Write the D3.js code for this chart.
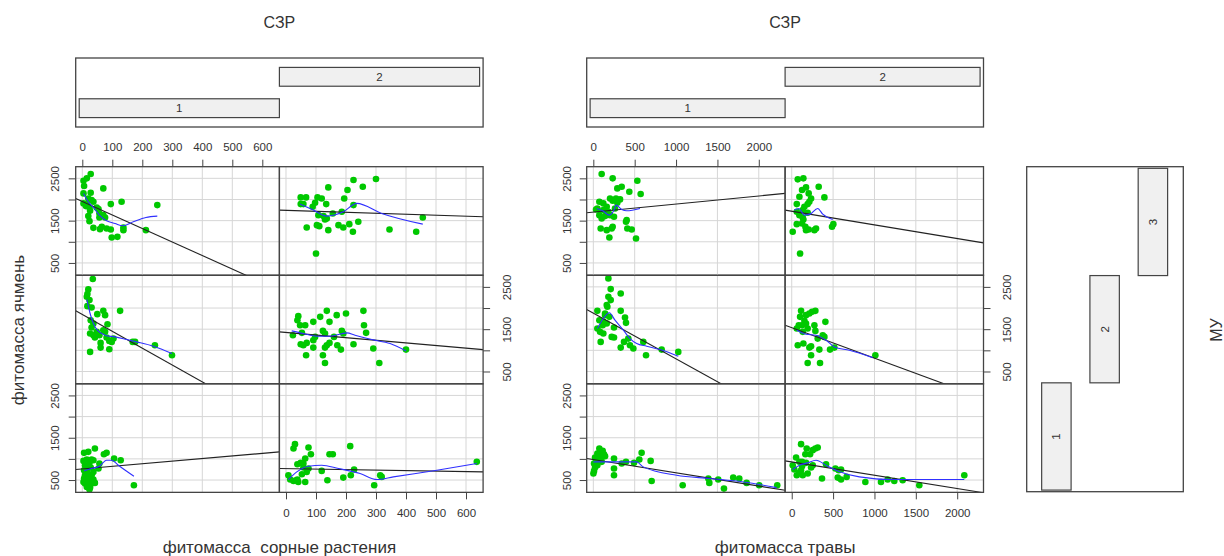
<!DOCTYPE html>
<html><head><meta charset="utf-8">
<script src="https://cdn.jsdelivr.net/npm/d3@7"></script>
<style>
body{margin:0;background:#fff}
text{font-family:"Liberation Sans",Arial,sans-serif;fill:#333}
</style>
</head><body><svg id="c" width="1224" height="556"></svg>
<script>
// ---------------- DATA ----------------
const szrLevels = [1, 2];
const muLevels = [1, 2, 3];
const weedTicks = [0, 100, 200, 300, 400, 500, 600];
const grassTicks = [0, 500, 1000, 1500, 2000];
const barleyTicks = [500, 1000, 1500, 2000, 2500];
const barleyTickLabels = [500, 1500, 2500];
const weedDomain = [-22, 657];
const grassDomain = [-80, 2318];
const barleyDomain = [209, 2775];

// фитомасса сорные растения vs ячмень
const weed_s1_m3 = [[28,2602],[15,2500],[4,2444],[6,2318],[4,2144],[28,2160],[31,1986],[20,2025],[4,1907],[15,1891],[24,1812],[26,1733],[20,1607],[24,1488],[37,1330],[54,1773],[57,1670],[70,2262],[70,1630],[65,1354],[59,1299],[81,1314],[95,1291],[98,1101],[117,1117],[95,1891],[131,1947],[137,1338],[137,1275],[212,1275],[250,1867],[76,1575],[57,1575],[37,1946],[12,1844],[48,1812]];
const weed_s2_m3 = [[49,2049],[67,2049],[49,1891],[58,1891],[105,2049],[119,2025],[97,1923],[134,1891],[141,2286],[205,2223],[225,2460],[256,2302],[300,2484],[194,2025],[225,1867],[186,1709],[108,1630],[125,1607],[130,1528],[136,1552],[69,1338],[103,1393],[111,1370],[141,1275],[175,1393],[191,1338],[211,1417],[223,1236],[241,1472],[345,1291],[434,1236],[456,1575],[100,722],[89,1828],[156,1670]];
const weed_s1_m2 = [[35,2685],[20,2440],[17,2329],[15,2266],[24,2187],[17,2045],[31,2013],[50,1855],[70,1934],[76,1832],[126,1934],[28,1713],[37,1634],[31,1539],[84,1618],[70,1476],[26,1397],[37,1358],[42,1302],[48,1437],[76,1437],[104,1278],[90,1223],[98,1200],[61,1176],[61,1065],[90,1026],[26,963],[168,1200],[176,1200],[242,1120],[299,883],[81,1302],[57,1358]];
const weed_s2_m2 = [[41,1808],[38,1713],[47,1594],[64,1594],[91,1674],[114,1792],[136,1934],[145,1674],[169,1832],[200,1871],[258,1934],[260,1594],[267,1413],[23,1358],[53,1413],[123,1460],[130,1397],[186,1460],[97,1318],[91,1239],[49,1144],[58,1120],[69,1176],[91,1065],[130,1065],[136,1120],[145,1176],[171,1120],[183,1018],[225,1144],[291,1042],[67,883],[123,883],[130,702],[311,702],[400,1018],[191,1397],[160,1318]];
const weed_s1_m1 = [[6,1143],[20,1166],[42,1245],[15,985],[31,985],[4,953],[9,850],[24,906],[37,969],[28,795],[6,732],[15,716],[9,613],[20,637],[31,613],[6,535],[15,511],[26,495],[37,511],[9,416],[20,400],[31,416],[42,432],[15,337],[26,321],[24,274],[4,455],[54,772],[57,890],[72,1111],[81,1143],[106,1008],[128,969],[172,377],[37,692],[12,795]];
const weed_s2_m1 = [[30,1348],[25,1245],[75,1269],[83,1111],[38,874],[49,906],[64,1008],[58,795],[75,772],[8,613],[14,511],[25,479],[38,511],[41,455],[64,455],[53,637],[69,692],[119,716],[138,495],[145,1111],[156,1111],[214,1301],[191,558],[216,613],[227,748],[294,377],[314,613],[319,574],[636,930],[58,890],[34,495]];

const weedLoess_s1_m3 = [[4,2144],[20,1947],[37,1812],[57,1630],[81,1496],[109,1433],[135,1378],[170,1472],[212,1575],[250,1607]];
const weedLoess_s2_m3 = [[47,1891],[91,1749],[136,1607],[191,1709],[236,1907],[319,1670],[456,1417]];
const weedLoess_s1_m2 = [[15,2203],[26,1871],[37,1634],[50,1476],[76,1358],[109,1318],[148,1255],[181,1200],[237,1097],[299,923]];
const weedLoess_s2_m2 = [[19,1460],[58,1397],[103,1334],[147,1334],[203,1413],[230,1358],[286,1255],[347,1160],[400,986]];
const weedLoess_s1_m1 = [[6,716],[31,772],[57,827],[81,969],[98,969],[120,850],[172,590]];
const weedLoess_s2_m1 = [[8,511],[36,692],[75,827],[119,850],[175,772],[247,653],[303,511],[358,574],[503,732],[636,890]];

// rows: [МУ1, МУ2, МУ3]
const weedFitIntercept_s1 = [761, 1846, 1955];
const weedFitSlope_s1 = [0.616, -3.98, -3.2];
const weedFitIntercept_s2 = [769, 1422, 1744];
const weedFitSlope_s2 = [-0.116, -0.616, -0.233];

// фитомасса травы vs ячмень
const grass_s1_m3 = [[101,2602],[234,2500],[532,2444],[572,2128],[73,1946],[121,1907],[49,1788],[162,1828],[73,1630],[142,1607],[202,1630],[101,1551],[250,1591],[202,2025],[234,1970],[274,2025],[290,1923],[323,2002],[290,2262],[343,2302],[435,2183],[89,1314],[162,1275],[234,1354],[222,1314],[194,1101],[403,1512],[395,1472],[411,1314],[464,1291],[516,1078],[121,1749],[33,1765],[182,1709],[262,1788]];
const grass_s2_m3 = [[73,2476],[141,2500],[125,2223],[173,2286],[205,2144],[234,2025],[193,1891],[61,1891],[61,1709],[93,1630],[133,1575],[141,1528],[125,1433],[165,1354],[205,1291],[173,1275],[274,1275],[294,1314],[12,1236],[61,1417],[213,1946],[326,2302],[395,2049],[503,1417],[487,1354],[101,722],[93,2065],[133,1749],[193,1686],[153,1828]];
const grass_s1_m2 = [[182,2700],[210,2448],[331,2345],[182,2266],[210,2187],[162,2069],[170,2029],[49,1934],[142,1832],[331,1934],[383,1776],[395,1650],[73,1713],[121,1674],[162,1634],[49,1515],[81,1437],[121,1397],[113,1594],[250,1539],[222,1318],[250,1302],[371,1200],[423,1278],[443,1120],[484,1042],[331,1065],[604,1200],[637,883],[826,1018],[1027,963],[89,1200],[142,1871],[194,1792]];
const grass_s2_m2 = [[113,1934],[101,1792],[173,1832],[213,1871],[246,1911],[286,1934],[153,1697],[125,1594],[173,1634],[85,1594],[274,1594],[133,1437],[286,1460],[407,1674],[375,1358],[395,1318],[73,1120],[141,1160],[213,1065],[234,1097],[334,1018],[463,1018],[515,1065],[193,702],[234,883],[342,702],[1011,883],[61,1515],[193,1515],[314,1278]];
const grass_s1_m1 = [[73,1245],[81,1166],[113,1190],[49,1127],[73,1088],[129,1111],[101,1032],[21,1032],[33,985],[101,930],[9,890],[49,850],[21,795],[9,716],[1,653],[250,1008],[250,772],[250,613],[343,890],[395,930],[492,906],[556,985],[584,1143],[693,953],[705,479],[1080,377],[1390,535],[1402,432],[1510,511],[1579,298],[1691,558],[1764,535],[1853,432],[2005,377],[2223,377],[142,1064],[73,969]];
const grass_s2_m1 = [[113,1348],[53,1032],[165,1111],[222,1111],[181,1245],[254,1206],[286,1245],[314,1269],[125,930],[125,827],[12,850],[32,748],[61,613],[93,669],[113,732],[133,613],[193,653],[234,795],[415,874],[528,772],[568,732],[596,748],[556,558],[596,511],[664,574],[366,535],[890,455],[1079,455],[1160,511],[1240,479],[1341,495],[1542,377],[2086,613],[93,930],[173,906],[254,850]];

const grassLoess_s1_m3 = [[41,1788],[113,1733],[194,1630],[250,1749],[274,1867],[343,1765],[403,1733],[564,1788]];
const grassLoess_s2_m3 = [[32,1749],[85,1788],[153,1630],[222,1654],[314,1788],[375,1654],[495,1528]];
const grassLoess_s1_m2 = [[49,1515],[121,1752],[194,1887],[262,1713],[363,1476],[443,1278],[524,1160],[645,1097],[806,1018],[1027,860]];
const grassLoess_s2_m2 = [[61,1476],[173,1381],[294,1358],[415,1239],[515,1081],[697,1002],[978,828]];
const grassLoess_s1_m1 = [[1,930],[242,930],[524,930],[604,811],[1007,613],[1410,535],[1812,455],[2215,321]];
const grassLoess_s2_m1 = [[12,748],[93,850],[193,906],[294,969],[415,850],[556,716],[818,574],[1220,511],[1623,511],[2086,511]];

const grassFitIntercept_s1 = [983, 1880, 1701];
const grassFitSlope_s1 = [-0.313, -1.081, 0.191];
const grassFitIntercept_s2 = [928, 1537, 1723];
const grassFitSlope_s2 = [-0.314, -0.721, -0.323];

// ---------------- DRAW ----------------
const svg = d3.select("#c");
const panelTop = 166.7, rowH = 108.55;
const rowTop = mu => panelTop + (3 - mu) * rowH;
const fontTick = 11.5;
const fontTitle = 17;
const intFmt = d3.format("d");

function styleTicks(sel) {
  sel.style("font-size", fontTick + "px").attr("fill", "#333")
    .style("font-family", "Liberation Sans, Arial, sans-serif");
}

function drawCoplot(cfg) {
  const x = d3.scaleLinear().domain(cfg.xDomain).range([0, cfg.colW]);
  const y = d3.scaleLinear().domain(barleyDomain).range([rowH, 0]);
  const line = d3.line().x(d => x(d[0])).y(d => y(d[1]));

  szrLevels.forEach((s, si) => {
    muLevels.forEach((m, mi) => {
      const px = cfg.x0 + si * cfg.colW, py = rowTop(m);
      const g = svg.append("g").attr("transform", `translate(${px},${py})`);
      const cid = `clip_${cfg.key}_${s}_${m}`;
      g.append("clipPath").attr("id", cid).append("rect")
        .attr("width", cfg.colW).attr("height", rowH);
      const gc = g.append("g").attr("clip-path", `url(#${cid})`);
      gc.selectAll("line.vx").data(cfg.xTicks).join("line")
        .attr("x1", d => x(d)).attr("x2", d => x(d)).attr("y1", 0).attr("y2", rowH)
        .attr("stroke", "#d6d6d6").attr("stroke-width", 1);
      gc.selectAll("line.hy").data(barleyTicks).join("line")
        .attr("y1", d => y(d)).attr("y2", d => y(d)).attr("x1", 0).attr("x2", cfg.colW)
        .attr("stroke", "#d6d6d6").attr("stroke-width", 1);
      gc.selectAll("circle").data(cfg.pts[si][mi]).join("circle")
        .attr("cx", d => x(d[0])).attr("cy", d => y(d[1])).attr("r", 3.3)
        .attr("fill", "#00c800");
      const a = cfg.fitA[si][mi], b = cfg.fitB[si][mi];
      const ends = cfg.xDomain.map(v => [v, a + b * v]);
      gc.append("path").attr("d", line(ends)).attr("fill", "none")
        .attr("stroke", "#222").attr("stroke-width", 1.1);
      gc.append("path").attr("d", line.curve(d3.curveMonotoneX)(cfg.loess[si][mi]))
        .attr("fill", "none").attr("stroke", "#3030ff").attr("stroke-width", 1.1);
      line.curve(d3.curveLinear);
      g.append("rect").attr("width", cfg.colW).attr("height", rowH)
        .attr("fill", "none").attr("stroke", "#444").attr("stroke-width", 1.3);
    });
  });

  const axTop = svg.append("g").attr("transform", `translate(${cfg.x0},${panelTop})`)
    .call(d3.axisTop(x).tickValues(cfg.xTicks).tickFormat(intFmt).tickSize(7).tickSizeOuter(0));
  const axBot = svg.append("g").attr("transform", `translate(${cfg.x0 + cfg.colW},${panelTop + 3 * rowH})`)
    .call(d3.axisBottom(x).tickValues(cfg.xTicks).tickFormat(intFmt).tickSize(7).tickSizeOuter(0));
  [axTop, axBot].forEach((ax, i) => {
    ax.select(".domain").remove();
    ax.selectAll("line").attr("stroke", "#444");
    styleTicks(ax.selectAll("text").attr("y", i === 0 ? -19.5 : 21).attr("dy", "0.35em"));
  });
  const yFmt = d => barleyTickLabels.includes(d) ? String(d) : "";
  [3, 1].forEach(m => {
    const ax = svg.append("g").attr("transform", `translate(${cfg.x0},${rowTop(m)})`)
      .call(d3.axisLeft(y).tickValues(barleyTicks).tickFormat(yFmt).tickSize(7).tickSizeOuter(0));
    ax.select(".domain").remove();
    ax.selectAll("line").attr("stroke", "#444");
    styleTicks(ax.selectAll("text").attr("x", null).attr("dy", null)
      .attr("transform", `translate(${cfg.leftLab},0) rotate(-90)`)
      .attr("text-anchor", "middle").attr("dominant-baseline", "central"));
  });
  {
    const ax = svg.append("g").attr("transform", `translate(${cfg.x0 + 2 * cfg.colW},${rowTop(2)})`)
      .call(d3.axisRight(y).tickValues(barleyTicks).tickFormat(yFmt).tickSize(7).tickSizeOuter(0));
    ax.select(".domain").remove();
    ax.selectAll("line").attr("stroke", "#444");
    styleTicks(ax.selectAll("text").attr("x", null).attr("dy", null)
      .attr("transform", `translate(${cfg.rightLab},0) rotate(-90)`)
      .attr("text-anchor", "middle").attr("dominant-baseline", "central"));
  }

  const cx = d3.scaleLinear().domain([0.4825, 2.5175]).range([cfg.x0, cfg.x0 + 2 * cfg.colW]);
  const cy = d3.scaleLinear().domain([0.4, 2.6]).range([127, 58]);
  svg.append("rect").attr("x", cx.range()[0]).attr("y", 58)
    .attr("width", cx.range()[1] - cx.range()[0]).attr("height", 69)
    .attr("fill", "none").attr("stroke", "#444").attr("stroke-width", 1.3);
  szrLevels.forEach(s => {
    svg.append("rect").attr("x", cx(s - 0.5)).attr("y", cy(s + 0.3))
      .attr("width", cx(s + 0.5) - cx(s - 0.5)).attr("height", cy(s - 0.3) - cy(s + 0.3))
      .attr("fill", "#f0f0f0").attr("stroke", "#444").attr("stroke-width", 1.2);
    svg.append("text").attr("x", cx(s)).attr("y", cy(s)).attr("text-anchor", "middle")
      .attr("dominant-baseline", "central").style("font-size", "11.5px").text(s);
  });
  svg.append("text").attr("x", cfg.x0 + cfg.colW).attr("y", 22).attr("text-anchor", "middle")
    .attr("dominant-baseline", "central").style("font-size", "16px").text("СЗР");
  svg.append("text").attr("x", cfg.x0 + cfg.colW).attr("y", 547).attr("text-anchor", "middle")
    .attr("dominant-baseline", "central").style("font-size", fontTitle + "px").style("white-space", "pre")
    .text(cfg.xTitle);
}

drawCoplot({
  key: "weed", x0: 75.7, colW: 203.7, xDomain: weedDomain, xTicks: weedTicks,
  pts: [[weed_s1_m1, weed_s1_m2, weed_s1_m3], [weed_s2_m1, weed_s2_m2, weed_s2_m3]],
  loess: [[weedLoess_s1_m1, weedLoess_s1_m2, weedLoess_s1_m3], [weedLoess_s2_m1, weedLoess_s2_m2, weedLoess_s2_m3]],
  fitA: [weedFitIntercept_s1, weedFitIntercept_s2], fitB: [weedFitSlope_s1, weedFitSlope_s2],
  leftLab: -21, rightLab: 24, xTitle: "фитомасса  сорные растения"
});
drawCoplot({
  key: "grass", x0: 586.7, colW: 198.4, xDomain: grassDomain, xTicks: grassTicks,
  pts: [[grass_s1_m1, grass_s1_m2, grass_s1_m3], [grass_s2_m1, grass_s2_m2, grass_s2_m3]],
  loess: [[grassLoess_s1_m1, grassLoess_s1_m2, grassLoess_s1_m3], [grassLoess_s2_m1, grassLoess_s2_m2, grassLoess_s2_m3]],
  fitA: [grassFitIntercept_s1, grassFitIntercept_s2], fitB: [grassFitSlope_s1, grassFitSlope_s2],
  leftLab: -20, rightLab: 23.5, xTitle: "фитомасса травы"
});

svg.append("text").attr("transform", "translate(18,330) rotate(-90)").attr("text-anchor", "middle")
  .attr("dominant-baseline", "central").style("font-size", fontTitle + "px").text("фитомасса ячмень");

const mx = d3.scaleLinear().domain([0.385, 3.63]).range([1026.7, 1183.3]);
const my = d3.scaleLinear().domain([0.485, 3.515]).range([491.7, 166.7]);
svg.append("rect").attr("x", mx.range()[0]).attr("y", my.range()[1])
  .attr("width", mx.range()[1] - mx.range()[0]).attr("height", my.range()[0] - my.range()[1])
  .attr("fill", "none").attr("stroke", "#444").attr("stroke-width", 1.3);
muLevels.forEach(m => {
  svg.append("rect").attr("x", mx(m - 0.305)).attr("y", my(m + 0.5))
    .attr("width", mx(m + 0.305) - mx(m - 0.305)).attr("height", my(m - 0.5) - my(m + 0.5))
    .attr("fill", "#f0f0f0").attr("stroke", "#444").attr("stroke-width", 1.2);
  svg.append("text").attr("transform", `translate(${mx(m)},${my(m)}) rotate(-90)`)
    .attr("text-anchor", "middle").attr("dominant-baseline", "central")
    .style("font-size", "11.5px").text(m);
});
svg.append("text").attr("transform", "translate(1216,330) rotate(-90)").attr("text-anchor", "middle")
  .attr("dominant-baseline", "central").style("font-size", "16px").text("МУ");
</script>
</body></html>
